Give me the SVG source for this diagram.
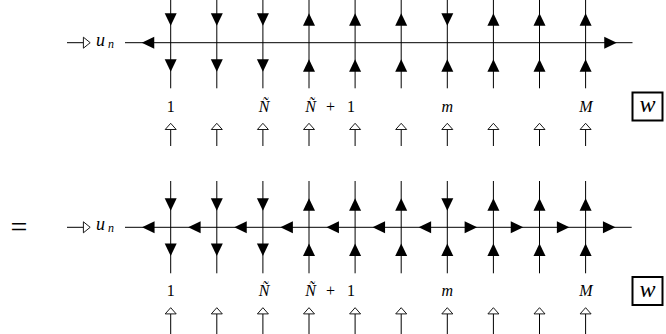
<svg xmlns="http://www.w3.org/2000/svg" xmlns:xlink="http://www.w3.org/1999/xlink" width="666" height="334" viewBox="0 0 666 334">
<style>
.ln{stroke:#000;stroke-width:1;fill:none}
.lb{font-family:"Liberation Serif",serif;font-size:16px;fill:#000}
.it{font-style:italic}
.u{font-size:18px}
.n{font-size:12px}
.w{font-size:24px}
.eq{font-size:30px}
.op{fill:#fff;stroke:#000;stroke-width:0.9}
.box{fill:none;stroke:#000;stroke-width:2}
</style>
<defs>
<polygon id="ad" points="-6,-6.25 6,-6.25 0,6.25" fill="#000"/>
<polygon id="au" points="-6,6.25 6,6.25 0,-6.25" fill="#000"/>
<polygon id="al" points="6.25,-6 6.25,6 -6.25,0" fill="#000"/>
<polygon id="ar" points="-6.25,-6 -6.25,6 6.25,0" fill="#000"/>
<polygon id="ou" class="op" points="-5.5,3.1 5.5,3.1 0,-3.1"/>
<polygon id="or" class="op" points="-3.4,-5.5 -3.4,5.5 3.4,0"/>
</defs>

<!-- TOP DIAGRAM -->
<g id="connectors-top">
<line class="ln" x1="125" y1="42.7" x2="632.5" y2="42.7"/>
<use xlink:href="#al" x="148" y="42.7"/>
<use xlink:href="#ar" x="610.5" y="42.7"/>
<line class="ln" x1="67" y1="42.7" x2="83.5" y2="42.7"/>
<use xlink:href="#or" x="86.8" y="42.7"/>
</g>
<g id="un-top">
<text class="lb it u" x="96" y="45.5">u</text>
<text class="lb it n" x="108" y="47.5">n</text>
</g>
<g id="strands-top">
<g id="t0"><line class="ln" x1="170.7" y1="0" x2="170.7" y2="88.3"/><use xlink:href="#ad" x="170.7" y="19.6"/><use xlink:href="#ad" x="170.7" y="65.5"/></g>
<g id="t1"><line class="ln" x1="216.8" y1="0" x2="216.8" y2="88.3"/><use xlink:href="#ad" x="216.8" y="19.6"/><use xlink:href="#ad" x="216.8" y="65.5"/></g>
<g id="t2"><line class="ln" x1="262.9" y1="0" x2="262.9" y2="88.3"/><use xlink:href="#ad" x="262.9" y="19.6"/><use xlink:href="#ad" x="262.9" y="65.5"/></g>
<g id="t3"><line class="ln" x1="309" y1="0" x2="309" y2="88.3"/><use xlink:href="#au" x="309" y="19.6"/><use xlink:href="#au" x="309" y="65.5"/></g>
<g id="t4"><line class="ln" x1="355.1" y1="0" x2="355.1" y2="88.3"/><use xlink:href="#au" x="355.1" y="19.6"/><use xlink:href="#au" x="355.1" y="65.5"/></g>
<g id="t5"><line class="ln" x1="401.2" y1="0" x2="401.2" y2="88.3"/><use xlink:href="#au" x="401.2" y="19.6"/><use xlink:href="#au" x="401.2" y="65.5"/></g>
<g id="t6"><line class="ln" x1="447.3" y1="0" x2="447.3" y2="88.3"/><use xlink:href="#ad" x="447.3" y="19.6"/><use xlink:href="#au" x="447.3" y="65.5"/></g>
<g id="t7"><line class="ln" x1="493.4" y1="0" x2="493.4" y2="88.3"/><use xlink:href="#au" x="493.4" y="19.6"/><use xlink:href="#au" x="493.4" y="65.5"/></g>
<g id="t8"><line class="ln" x1="539.5" y1="0" x2="539.5" y2="88.3"/><use xlink:href="#au" x="539.5" y="19.6"/><use xlink:href="#au" x="539.5" y="65.5"/></g>
<g id="t9"><line class="ln" x1="585.6" y1="0" x2="585.6" y2="88.3"/><use xlink:href="#au" x="585.6" y="19.6"/><use xlink:href="#au" x="585.6" y="65.5"/></g>
</g>
<g id="labels-top">
<text class="lb" x="170.7" y="111.5" text-anchor="middle">1</text>
<text class="lb it" x="264" y="111.5" text-anchor="middle">Ñ</text>
<text class="lb it" x="310.5" y="111.5" text-anchor="middle">Ñ</text>
<text class="lb" x="330.5" y="111.5" text-anchor="middle">+</text>
<text class="lb" x="351" y="111.5" text-anchor="middle">1</text>
<text class="lb it" x="447.3" y="111.5" text-anchor="middle">m</text>
<text class="lb it" x="586" y="111.5" text-anchor="middle">M</text>
</g>
<g id="w-top">
<rect class="box" x="632.5" y="92.5" width="30" height="28"/>
<text class="lb it w" x="647.5" y="112" text-anchor="middle">w</text>
</g>
<g id="inputs-top">
<g><line class="ln" x1="170.7" y1="129.5" x2="170.7" y2="146"/><use xlink:href="#ou" x="170.7" y="126.4"/></g>
<g><line class="ln" x1="216.8" y1="129.5" x2="216.8" y2="146"/><use xlink:href="#ou" x="216.8" y="126.4"/></g>
<g><line class="ln" x1="262.9" y1="129.5" x2="262.9" y2="146"/><use xlink:href="#ou" x="262.9" y="126.4"/></g>
<g><line class="ln" x1="309" y1="129.5" x2="309" y2="146"/><use xlink:href="#ou" x="309" y="126.4"/></g>
<g><line class="ln" x1="355.1" y1="129.5" x2="355.1" y2="146"/><use xlink:href="#ou" x="355.1" y="126.4"/></g>
<g><line class="ln" x1="401.2" y1="129.5" x2="401.2" y2="146"/><use xlink:href="#ou" x="401.2" y="126.4"/></g>
<g><line class="ln" x1="447.3" y1="129.5" x2="447.3" y2="146"/><use xlink:href="#ou" x="447.3" y="126.4"/></g>
<g><line class="ln" x1="493.4" y1="129.5" x2="493.4" y2="146"/><use xlink:href="#ou" x="493.4" y="126.4"/></g>
<g><line class="ln" x1="539.5" y1="129.5" x2="539.5" y2="146"/><use xlink:href="#ou" x="539.5" y="126.4"/></g>
<g><line class="ln" x1="585.6" y1="129.5" x2="585.6" y2="146"/><use xlink:href="#ou" x="585.6" y="126.4"/></g>
</g>

<!-- EQUALS -->
<text id="eq" class="lb eq" x="19" y="237" text-anchor="middle">=</text>

<!-- BOTTOM DIAGRAM -->
<g id="connectors-bottom">
<line class="ln" x1="125" y1="227.3" x2="631.7" y2="227.3"/>
<use xlink:href="#al" x="148.3" y="227.3"/>
<use xlink:href="#al" x="194.4" y="227.3"/>
<use xlink:href="#al" x="240.5" y="227.3"/>
<use xlink:href="#al" x="286.6" y="227.3"/>
<use xlink:href="#al" x="332.7" y="227.3"/>
<use xlink:href="#al" x="378.8" y="227.3"/>
<use xlink:href="#al" x="424.9" y="227.3"/>
<use xlink:href="#ar" x="470.9" y="227.3"/>
<use xlink:href="#ar" x="517" y="227.3"/>
<use xlink:href="#ar" x="563.1" y="227.3"/>
<use xlink:href="#ar" x="609.2" y="227.3"/>
<line class="ln" x1="67" y1="227.3" x2="83.5" y2="227.3"/>
<use xlink:href="#or" x="86.8" y="227.3"/>
</g>
<g id="un-bottom">
<text class="lb it u" x="96" y="230.1">u</text>
<text class="lb it n" x="108" y="232.1">n</text>
</g>
<g id="strands-bottom">
<g id="b0"><line class="ln" x1="170.7" y1="181" x2="170.7" y2="273.3"/><use xlink:href="#ad" x="170.7" y="204.5"/><use xlink:href="#ad" x="170.7" y="249.7"/></g>
<g id="b1"><line class="ln" x1="216.8" y1="181" x2="216.8" y2="273.3"/><use xlink:href="#ad" x="216.8" y="204.5"/><use xlink:href="#ad" x="216.8" y="249.7"/></g>
<g id="b2"><line class="ln" x1="262.9" y1="181" x2="262.9" y2="273.3"/><use xlink:href="#ad" x="262.9" y="204.5"/><use xlink:href="#ad" x="262.9" y="249.7"/></g>
<g id="b3"><line class="ln" x1="309" y1="181" x2="309" y2="273.3"/><use xlink:href="#au" x="309" y="204.5"/><use xlink:href="#au" x="309" y="249.7"/></g>
<g id="b4"><line class="ln" x1="355.1" y1="181" x2="355.1" y2="273.3"/><use xlink:href="#au" x="355.1" y="204.5"/><use xlink:href="#au" x="355.1" y="249.7"/></g>
<g id="b5"><line class="ln" x1="401.2" y1="181" x2="401.2" y2="273.3"/><use xlink:href="#au" x="401.2" y="204.5"/><use xlink:href="#au" x="401.2" y="249.7"/></g>
<g id="b6"><line class="ln" x1="447.3" y1="181" x2="447.3" y2="273.3"/><use xlink:href="#ad" x="447.3" y="204.5"/><use xlink:href="#au" x="447.3" y="249.7"/></g>
<g id="b7"><line class="ln" x1="493.4" y1="181" x2="493.4" y2="273.3"/><use xlink:href="#au" x="493.4" y="204.5"/><use xlink:href="#au" x="493.4" y="249.7"/></g>
<g id="b8"><line class="ln" x1="539.5" y1="181" x2="539.5" y2="273.3"/><use xlink:href="#au" x="539.5" y="204.5"/><use xlink:href="#au" x="539.5" y="249.7"/></g>
<g id="b9"><line class="ln" x1="585.6" y1="181" x2="585.6" y2="273.3"/><use xlink:href="#au" x="585.6" y="204.5"/><use xlink:href="#au" x="585.6" y="249.7"/></g>
</g>
<g id="labels-bottom">
<text class="lb" x="170.7" y="296" text-anchor="middle">1</text>
<text class="lb it" x="264" y="296" text-anchor="middle">Ñ</text>
<text class="lb it" x="310.5" y="296" text-anchor="middle">Ñ</text>
<text class="lb" x="330.5" y="296" text-anchor="middle">+</text>
<text class="lb" x="351" y="296" text-anchor="middle">1</text>
<text class="lb it" x="447.3" y="296" text-anchor="middle">m</text>
<text class="lb it" x="586" y="296" text-anchor="middle">M</text>
</g>
<g id="w-bottom">
<rect class="box" x="632.5" y="277" width="30" height="28"/>
<text class="lb it w" x="647.5" y="296.5" text-anchor="middle">w</text>
</g>
<g id="inputs-bottom">
<g><line class="ln" x1="170.7" y1="314" x2="170.7" y2="334"/><use xlink:href="#ou" x="170.7" y="310.8"/></g>
<g><line class="ln" x1="216.8" y1="314" x2="216.8" y2="334"/><use xlink:href="#ou" x="216.8" y="310.8"/></g>
<g><line class="ln" x1="262.9" y1="314" x2="262.9" y2="334"/><use xlink:href="#ou" x="262.9" y="310.8"/></g>
<g><line class="ln" x1="309" y1="314" x2="309" y2="334"/><use xlink:href="#ou" x="309" y="310.8"/></g>
<g><line class="ln" x1="355.1" y1="314" x2="355.1" y2="334"/><use xlink:href="#ou" x="355.1" y="310.8"/></g>
<g><line class="ln" x1="401.2" y1="314" x2="401.2" y2="334"/><use xlink:href="#ou" x="401.2" y="310.8"/></g>
<g><line class="ln" x1="447.3" y1="314" x2="447.3" y2="334"/><use xlink:href="#ou" x="447.3" y="310.8"/></g>
<g><line class="ln" x1="493.4" y1="314" x2="493.4" y2="334"/><use xlink:href="#ou" x="493.4" y="310.8"/></g>
<g><line class="ln" x1="539.5" y1="314" x2="539.5" y2="334"/><use xlink:href="#ou" x="539.5" y="310.8"/></g>
<g><line class="ln" x1="585.6" y1="314" x2="585.6" y2="334"/><use xlink:href="#ou" x="585.6" y="310.8"/></g>
</g>
</svg>
